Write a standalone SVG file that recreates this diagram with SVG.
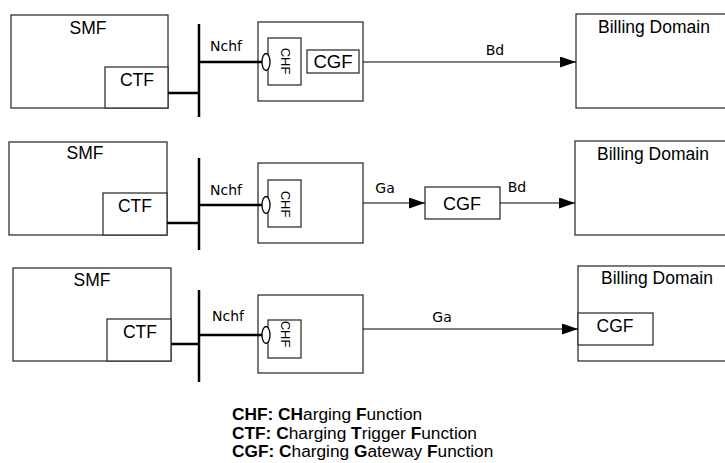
<svg xmlns="http://www.w3.org/2000/svg" width="725" height="463" viewBox="0 0 725 463">
<style>
.box{fill:#fff;stroke:#333;stroke-width:1.3}
.thick{stroke:#000;stroke-width:2.5;fill:none}
.line{stroke:#000;stroke-width:1.2;fill:none}
.lbl{font-family:"Liberation Sans",Arial,sans-serif;font-size:17.5px;fill:#000;text-anchor:middle}
.cl{font-family:"DejaVu Sans",Tahoma,sans-serif;font-size:14px;fill:#000;text-anchor:middle}
.chf{font-family:"Liberation Sans",Arial,sans-serif;font-size:13px;fill:#000;text-anchor:middle}
.leg{font-family:"Liberation Sans",Arial,sans-serif;font-size:17.3px;fill:#000}
.b{font-weight:bold}
</style>
<defs>
<marker id="arr" markerUnits="userSpaceOnUse" markerWidth="17" markerHeight="12" refX="16" refY="5.5" orient="auto">
<path d="M0,0 L16,5.5 L0,11 Z" fill="#000"/>
</marker>
</defs>

<!-- Row 1 -->
<g id="smf1"><rect class="box" x="11" y="15" width="157" height="93"/><text class="lbl" x="88" y="34">SMF</text></g>
<g id="ctf1"><rect class="box" x="105" y="67" width="63" height="41"/><text class="lbl" x="137" y="86">CTF</text></g>
<g id="chfhost1"><rect class="box" x="258" y="22" width="105" height="79"/></g>
<g id="chf1"><rect class="box" x="268" y="38" width="33" height="47"/><text class="chf" transform="translate(280.5,61) rotate(90)">CHF</text><ellipse cx="266" cy="62" rx="4" ry="8.5" fill="#fff" stroke="#000" stroke-width="1.3"/></g>
<g id="cgf1"><rect class="box" x="307" y="50" width="52" height="23"/><text class="lbl" x="333" y="68" style="font-size:18.5px">CGF</text></g>
<g id="bd1"><rect class="box" x="576" y="14" width="160" height="94"/><text class="lbl" x="654" y="33">Billing Domain</text></g>

<!-- Row 2 -->
<g id="smf2"><rect class="box" x="9" y="142" width="158" height="93"/><text class="lbl" x="85" y="159">SMF</text></g>
<g id="ctf2"><rect class="box" x="103" y="193" width="64" height="42"/><text class="lbl" x="135" y="212">CTF</text></g>
<g id="chfhost2"><rect class="box" x="258" y="163" width="105" height="80"/></g>
<g id="chf2"><rect class="box" x="268" y="180" width="33" height="47"/><text class="chf" transform="translate(280.5,204) rotate(90)">CHF</text><ellipse cx="266" cy="205" rx="4" ry="8.5" fill="#fff" stroke="#000" stroke-width="1.3"/></g>
<g id="cgf2"><rect class="box" x="425" y="187" width="75" height="32"/><text class="lbl" x="462" y="210" style="font-size:18px">CGF</text></g>
<g id="bd2"><rect class="box" x="575" y="141" width="160" height="94"/><text class="lbl" x="653" y="160">Billing Domain</text></g>

<!-- Row 3 -->
<g id="smf3"><rect class="box" x="13" y="268" width="158" height="93"/><text class="lbl" x="92" y="286">SMF</text></g>
<g id="ctf3"><rect class="box" x="107" y="319" width="64" height="42"/><text class="lbl" x="140" y="338">CTF</text></g>
<g id="chfhost3"><rect class="box" x="258" y="295" width="105" height="78"/></g>
<g id="chf3"><rect class="box" x="268" y="320" width="33" height="38"/><text class="chf" transform="translate(280.5,334) rotate(90)">CHF</text><ellipse cx="266" cy="335" rx="4" ry="8.5" fill="#fff" stroke="#000" stroke-width="1.3"/></g>
<g id="bd3"><rect class="box" x="578" y="266" width="160" height="95"/><text class="lbl" x="657" y="284">Billing Domain</text></g>
<g id="cgf3"><rect class="box" x="578" y="313" width="75" height="32"/><text class="lbl" x="615" y="332">CGF</text></g>

<!-- Connectors -->
<g id="connectors">
<line class="thick" x1="199" y1="24" x2="199" y2="117"/>
<line class="thick" x1="168" y1="93" x2="199" y2="93"/>
<line class="thick" x1="199" y1="62" x2="262" y2="62"/>
<text class="cl" x="226" y="51">Nchf</text>
<line class="line" x1="363" y1="62" x2="576" y2="62" marker-end="url(#arr)"/>
<text class="cl" x="495" y="55">Bd</text>

<line class="thick" x1="199" y1="158" x2="199" y2="250"/>
<line class="thick" x1="167" y1="223" x2="199" y2="223"/>
<line class="thick" x1="199" y1="205" x2="262" y2="205"/>
<text class="cl" x="226" y="195">Nchf</text>
<line class="line" x1="363" y1="203" x2="425" y2="203" marker-end="url(#arr)"/>
<text class="cl" x="385" y="193">Ga</text>
<line class="line" x1="500" y1="203" x2="575" y2="203" marker-end="url(#arr)"/>
<text class="cl" x="517" y="192">Bd</text>

<line class="thick" x1="199" y1="290" x2="199" y2="382"/>
<line class="thick" x1="171" y1="344" x2="199" y2="344"/>
<line class="thick" x1="199" y1="335" x2="262" y2="335"/>
<text class="cl" x="228" y="321">Nchf</text>
<line class="line" x1="363" y1="329" x2="578" y2="329" marker-end="url(#arr)"/>
<text class="cl" x="442" y="322">Ga</text>
</g>

<!-- Legend -->
<g id="legend">
<text class="leg" x="232" y="420"><tspan class="b">CHF: CH</tspan>arging <tspan class="b">F</tspan>unction</text>
<text class="leg" x="232" y="438.5"><tspan class="b">CTF:</tspan> <tspan class="b">C</tspan>harging <tspan class="b">T</tspan>rigger <tspan class="b">F</tspan>unction</text>
<text class="leg" x="232" y="457"><tspan class="b">CGF:</tspan> <tspan class="b">C</tspan>harging <tspan class="b">G</tspan>ateway <tspan class="b">F</tspan>unction</text>
</g>
</svg>
